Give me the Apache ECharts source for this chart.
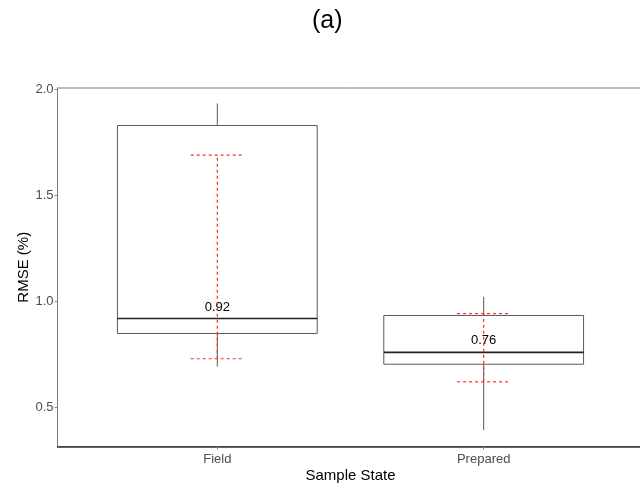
<!DOCTYPE html>
<html>
<head>
<meta charset="utf-8">
<script src="https://cdn.jsdelivr.net/npm/echarts@6/dist/echarts.min.js"></script>
<style>
  html, body { margin: 0; padding: 0; background: #fff; }
  #chart { width: 640px; height: 489px; }
</style>
</head>
<body>
<div id="chart"></div>
<script>
// Sample states and RMSE summary statistics
const categories = ['Field', 'Prepared'];
const whiskerLow = [0.693, 0.393];
const q1 = [0.849, 0.704];
const median = [0.92, 0.76];
const q3 = [1.830, 0.934];
const whiskerHigh = [1.934, 1.022];
// mean ± sd error bars (red dashed)
const sdLow = [0.730, 0.621];
const sdHigh = [1.690, 0.943];
const yTicks = [0.5, 1.0, 1.5, 2.0];
const xTicks = [1, 2];

const FONT = '"Liberation Sans", Arial, sans-serif';
const BOX_W = 0.75;
const CAP_W = 0.2;

const boxData = categories.map((c, i) => [i + 1, whiskerLow[i], q1[i], median[i], q3[i], whiskerHigh[i]]);
const errData = categories.map((c, i) => [i + 1, sdLow[i], sdHigh[i]]);

function renderBox(params, api) {
  const x = api.value(0);
  const lo = api.coord([x, api.value(1)]);
  const b1 = api.coord([x, api.value(2)]);
  const md = api.coord([x, api.value(3)]);
  const b3 = api.coord([x, api.value(4)]);
  const hi = api.coord([x, api.value(5)]);
  const left = api.coord([x - BOX_W / 2, api.value(3)])[0];
  const right = api.coord([x + BOX_W / 2, api.value(3)])[0];
  const grey = '#5a5a5a';
  return {
    type: 'group',
    children: [
      { type: 'line', shape: { x1: hi[0], y1: hi[1], x2: b3[0], y2: b3[1] }, style: { stroke: grey, lineWidth: 1 } },
      { type: 'line', shape: { x1: b1[0], y1: b1[1], x2: lo[0], y2: lo[1] }, style: { stroke: grey, lineWidth: 1 } },
      { type: 'rect', shape: { x: left, y: b3[1], width: right - left, height: b1[1] - b3[1] },
        style: { fill: 'rgba(255,255,255,0)', stroke: grey, lineWidth: 1 } },
      { type: 'line', shape: { x1: left, y1: md[1], x2: right, y2: md[1] }, style: { stroke: '#222', lineWidth: 1.6 } },
      { type: 'text', x: md[0], y: md[1] - 5,
        style: { text: api.value(3).toFixed(2), fill: '#000', fontSize: 13, fontFamily: FONT,
                 align: 'center', verticalAlign: 'bottom' } }
    ]
  };
}

function renderErr(params, api) {
  const x = api.value(0);
  const lo = api.coord([x, api.value(1)]);
  const hi = api.coord([x, api.value(2)]);
  const l = api.coord([x - CAP_W / 2, api.value(1)])[0];
  const r = api.coord([x + CAP_W / 2, api.value(1)])[0];
  const st = { stroke: '#ff2a2a', lineWidth: 1.2, lineDash: [3, 3] };
  return {
    type: 'group',
    children: [
      { type: 'line', shape: { x1: lo[0], y1: lo[1], x2: hi[0], y2: hi[1] }, style: st },
      { type: 'line', shape: { x1: l, y1: hi[1], x2: r, y2: hi[1] }, style: st },
      { type: 'line', shape: { x1: l, y1: lo[1], x2: r, y2: lo[1] }, style: st }
    ]
  };
}

const chart = echarts.init(document.getElementById('chart'), null, { renderer: 'canvas' });
chart.setOption({
  animation: false,
  backgroundColor: '#fff',
  textStyle: { fontFamily: FONT },
  graphic: [{
    type: 'text', left: 312, top: 9,
    style: { text: '(a)', fontSize: 25, fill: '#000', fontFamily: FONT }
  }],
  grid: {
    left: 57.5, top: 88, width: 586, height: 358.5,
    outerBoundsMode: 'none', containLabel: false,
    show: true, borderColor: '#7a7a7a', borderWidth: 1, backgroundColor: 'transparent'
  },
  xAxis: {
    type: 'value', min: 0.4, max: 2.6,
    name: 'Sample State', nameLocation: 'middle', nameGap: 22, nameMoveOverlap: false,
    nameTextStyle: { fontSize: 15, color: '#000', fontFamily: FONT },
    axisLine: { show: true, lineStyle: { color: '#333', width: 1.5 } },
    axisTick: { show: true, length: 3, customValues: xTicks, lineStyle: { color: '#888' } },
    axisLabel: {
      customValues: xTicks, color: '#4d4d4d', fontSize: 13, margin: 6, fontFamily: FONT,
      formatter: v => categories[Math.round(v) - 1] || ''
    },
    splitLine: { show: false }
  },
  yAxis: {
    type: 'value', min: 0.316, max: 2.007,
    name: 'RMSE (%)', nameLocation: 'middle', nameGap: 26, nameRotate: 90, nameMoveOverlap: false,
    nameTextStyle: { fontSize: 15, color: '#000', fontFamily: FONT },
    axisLine: { show: true, lineStyle: { color: '#7a7a7a', width: 1 } },
    axisTick: { show: true, length: 3, customValues: yTicks, lineStyle: { color: '#888' } },
    axisLabel: {
      customValues: yTicks, color: '#4d4d4d', fontSize: 13, margin: 4, fontFamily: FONT,
      formatter: v => v.toFixed(1)
    },
    splitLine: { show: false }
  },
  series: [
    { type: 'custom', renderItem: renderBox, data: boxData, encode: { x: 0, y: [1, 2, 3, 4, 5] }, clip: false, z: 2 },
    { type: 'custom', renderItem: renderErr, data: errData, encode: { x: 0, y: [1, 2] }, clip: false, z: 3 }
  ]
});
</script>
</body>
</html>
